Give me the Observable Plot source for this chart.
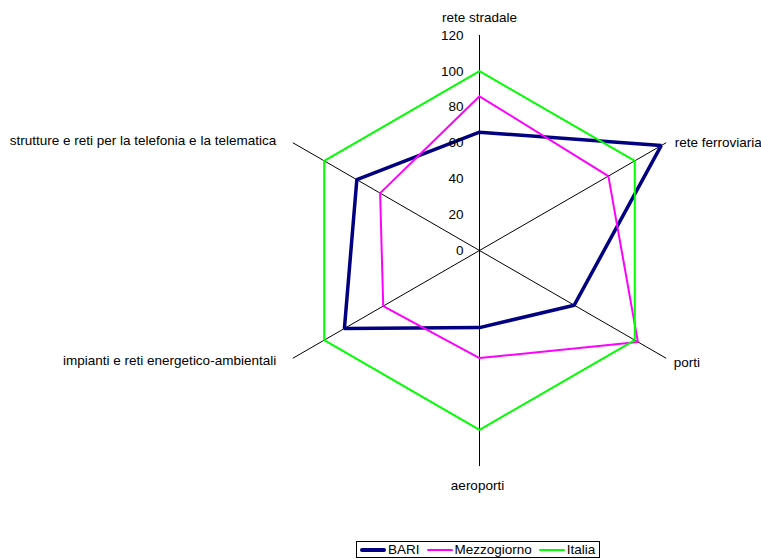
<!DOCTYPE html>
<html>
<head>
<meta charset="utf-8">
<script src="https://cdn.jsdelivr.net/npm/d3@7"></script>
<script src="https://cdn.jsdelivr.net/npm/@observablehq/plot@0.6"></script>
<style>
  html, body { margin: 0; padding: 0; background: #fff; }
  body { width: 761px; height: 559px; overflow: hidden; font-family: "Liberation Sans", Arial, sans-serif; }
  #legend { position: absolute; left: 356px; top: 541px; border: 1px solid #000; font-size: 13.5px; line-height: 15px; padding: 0 4px 0 3px; white-space: nowrap; background: #fff; }
  #legend span.sw { display: inline-block; vertical-align: middle; width: 26px; margin-right: 2px; }
  #legend span.item { margin-right: 7px; }
  #legend span.item:last-child { margin-right: 0; }
</style>
</head>
<body>
<div id="chart"></div>
<div id="legend"></div>
<script>
// ---- data ----
const axes = [
  "rete stradale",
  "rete ferroviaria",
  "porti",
  "aeroporti",
  "impianti e reti energetico-ambientali",
  "strutture e reti per la telefonia e la telematica"
];
const bari        = [66, 117, 61, 43, 87, 79];
const mezzogiorno = [86, 83, 102, 60, 62, 64];
const italia      = [100, 100, 100, 100, 100, 100];
const ticks = [0, 20, 40, 60, 80, 100, 120];
const rMax = 120;
const seriesNames = ["BARI", "Mezzogiorno", "Italia"];
const seriesColors = ["#000080", "#FF00FF", "#00FF00"];
const seriesWidths = [3.5, 2, 2];

// ---- geometry (polar -> cartesian in data units) ----
const n = axes.length;
const ang = i => (i * 2 * Math.PI) / n; // clockwise from top
const px = (i, r) => r * Math.sin(ang(i));
const py = (i, r) => r * Math.cos(ang(i));

const W = 761, H = 537;
const k = 1.793;       // pixels per unit
const cx = 479, cy = 250;

const seriesVals = [bari, mezzogiorno, italia];
const lineData = [];
seriesVals.forEach((vals, s) => {
  for (let j = 0; j <= n; j++) {
    const i = j % n;
    lineData.push({series: seriesNames[s], x: px(i, vals[i]), y: py(i, vals[i]), order: j});
  }
});

const spokes = [];
axes.forEach((a, i) => {
  spokes.push({axis: a, x: 0, y: 0});
  spokes.push({axis: a, x: px(i, rMax), y: py(i, rMax)});
});

const labelData = axes.map((a, i) => ({label: a, i, x: px(i, rMax), y: py(i, rMax)}));
const tickData = ticks.map(t => ({t, x: 0, y: t}));

const font = '"Liberation Sans", Arial, sans-serif';
const fs = 13.5;

const marks = [
  Plot.line(spokes, {x: "x", y: "y", z: "axis", stroke: "#000", strokeWidth: 1}),
];
seriesNames.forEach((name, s) => {
  marks.push(Plot.line(lineData.filter(d => d.series === name), {
    x: "x", y: "y", stroke: seriesColors[s], strokeWidth: seriesWidths[s],
    strokeLinejoin: "miter", curve: "linear"
  }));
});
marks.push(Plot.text(tickData, {x: "x", y: "y", text: d => String(d.t), textAnchor: "end", dx: -16, fontSize: fs, fill: "#000"}));
const lab = (filterFn, opts) => Plot.text(labelData.filter(filterFn), {x: "x", y: "y", text: "label", fontSize: fs, fill: "#000", ...opts});
marks.push(lab(d => d.i === 0, {textAnchor: "middle", dy: -18}));
marks.push(lab(d => d.i === 1, {textAnchor: "start", dx: 9, dy: 0}));
marks.push(lab(d => d.i === 2, {textAnchor: "start", dx: 8, dy: 5}));
marks.push(lab(d => d.i === 3, {textAnchor: "middle", dx: -2, dy: 20}));
marks.push(lab(d => d.i === 4, {textAnchor: "end", dx: -17, dy: 3}));
marks.push(lab(d => d.i === 5, {textAnchor: "end", dx: -17, dy: -2}));

const chart = Plot.plot({
  width: W,
  height: H,
  margin: 0,
  style: {fontFamily: font, background: "#fff", overflow: "visible"},
  x: {domain: [-cx / k, (W - cx) / k], range: [0, W], axis: null},
  y: {domain: [(cy - H) / k, cy / k], range: [H, 0], axis: null},
  marks
});
document.getElementById("chart").appendChild(chart);

// legend
const leg = document.getElementById("legend");
seriesNames.forEach((name, s) => {
  const item = document.createElement("span");
  item.className = "item";
  const sw = document.createElement("span");
  sw.className = "sw";
  sw.style.borderTop = `${seriesWidths[s] === 2 ? 2 : 4}px solid ${seriesColors[s]}`;
  sw.style.borderRadius = "2px";
  item.appendChild(sw);
  item.appendChild(document.createTextNode(name));
  leg.appendChild(item);
});
</script>
</body>
</html>
